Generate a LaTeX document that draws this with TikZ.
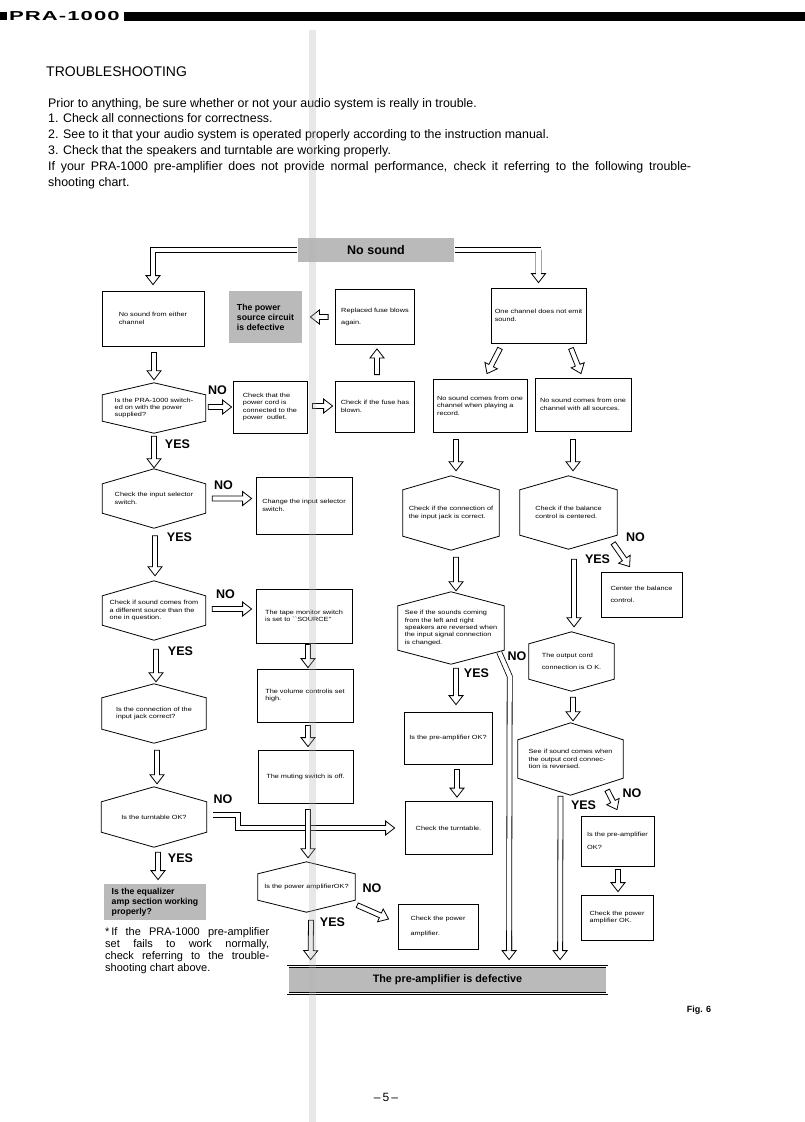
\documentclass[tikz,border=0pt]{standalone}
\usepackage{fontspec}
\setmainfont{Liberation Sans}
\newfontfamily\boxfam[FakeStretch=1.22]{Liberation Sans}
\newfontfamily\hdrfam[FakeStretch=1.7,LetterSpace=8]{Liberation Sans}
\usetikzlibrary{calc}
\providecommand{\bxf}{\boxfam\fontsize{6}{7.4}\selectfont}
\tikzset{
  bx/.style 2 args ={draw,line width=.8pt,align=left,inner sep=1pt,font=\bxf,
                     minimum width=#1,minimum height=#2},
  hexq/.style n args={3}{align=left,inner sep=1pt,font=\bxf,minimum width=#1,minimum height=#2,
                     append after command={\pgfextra{\draw[line width=.8pt]
                       (\tikzlastnode.north) -- ([yshift=-#3]\tikzlastnode.north east)
                       -- ([yshift=#3]\tikzlastnode.south east) -- (\tikzlastnode.south)
                       -- ([yshift=#3]\tikzlastnode.south west)
                       -- ([yshift=-#3]\tikzlastnode.north west) -- cycle;}}},
  gbox/.style 2 args={draw,line width=.8pt,double=white,double distance=1.2pt,fill=black!27,
                     align=left,inner sep=2pt,font=\bfseries\fontsize{8.7}{10}\selectfont,
                     minimum width=#1,minimum height=#2},
  yn/.style         ={font=\bfseries\fontsize{12.5}{13}\selectfont,inner sep=0pt},
  fat/.style        ={draw,line width=.8pt,fill=white,line join=miter,
                     to path={let \p1=(\tikztostart), \p2=(\tikztotarget),
                       \p3=($(\p2)!9pt!(\p1)$) in
                       ($(\p1)!2.5pt!90:(\p2)$) -- ($(\p3)!2.5pt!90:(\p2)$)
                       -- ($(\p3)!7pt!90:(\p2)$) -- (\p2) -- ($(\p3)!7pt!-90:(\p2)$)
                       -- ($(\p3)!2.5pt!-90:(\p2)$) -- ($(\p1)!2.5pt!-90:(\p2)$) -- cycle}},
  fatl/.style       ={draw,line width=.8pt,double=white,double distance=4.2pt,line join=miter},
}

\begin{document}
\begin{tikzpicture}[x=1pt,y=-1pt]
  \useasboundingbox (0,0) rectangle (805,1122);

  % ---------- page head ----------
  \fill (0,12) rectangle (7,20);
  \node[anchor=west,inner sep=0pt,font=\hdrfam\bfseries\fontsize{13}{13}\selectfont] (hdr) at (9,16) {PRA-1000};
  \fill (124,11.5) rectangle (805,20.5);

  \node[anchor=base west,inner sep=0pt,font=\fontsize{14}{16}\selectfont] (ttl) at (46,76) {TROUBLESHOOTING};
  \node[anchor=north west,inner sep=0pt,text width=643pt,align=justify,
        font=\fontsize{12.4}{15.8}\selectfont] (intro) at (48,98)
    {Prior to anything, be sure whether or not your audio system is really in trouble.\\
     1. Check all connections for correctness.\\
     2. See to it that your audio system is operated properly according to the instruction manual.\\
     3. Check that the speakers and turntable are working properly.\\
     If your PRA-1000 pre-amplifier does not provide normal performance, check it referring to the following trouble-\linebreak
     shooting chart.};

  % ---------- top ----------
  \node[gbox={158pt}{26pt},align=center,font=\bfseries\fontsize{12.5}{13}\selectfont] (nosound) at (376,250) {No sound};

  % ---------- left column ----------
  \node[bx={102pt}{55pt}] (n1) at (153,318.5) {No sound from either\\channel};
  \node[hexq={103pt}{50pt}{12pt}] (h1) at (154,408) {Is the PRA-1000 switch-\\ed on with the power\\supplied?};
  \node[hexq={103pt}{59pt}{15pt}] (h2) at (154,498.5) {Check the input selector\\switch.};
  \node[hexq={103pt}{59pt}{15pt}] (h3) at (154,610.5) {Check if sound comes from\\a different source than the\\one in question.};
  \node[hexq={104pt}{59pt}{14pt}] (h4) at (154,713.5) {Is the connection of the\\input jack correct?};
  \node[hexq={105pt}{60pt}{15pt}] (h5) at (154,817) {Is the turntable OK?};
  \node[gbox={104pt}{38pt}] (eq) at (155,902) {Is the equalizer\\amp section working\\properly?};

  % ---------- middle column ----------
  \node[gbox={75pt}{54pt}] (pwr) at (265.5,317) {The power\\source circuit\\is defective};
  \node[bx={74pt}{52pt}] (pc) at (270,407) {Check that the\\power cord is\\connected to the\\power\ \ outlet.};
  \node[bx={96pt}{57pt}] (chg) at (304,505.5) {Change the input selector\\switch.};
  \node[bx={96pt}{54pt}] (tape) at (304,616) {The tape monitor switch\\is set to ``SOURCE''};
  \node[bx={96pt}{53pt}] (vol) at (305,695.5) {The volume controlis set\\high.};
  \node[bx={95pt}{53pt}] (mute) at (305.5,776.5) {The muting switch is off.};
  \node[hexq={97pt}{50pt}{12pt}] (h6) at (306.5,887) {Is the power amplifierOK?};
  \node[bx={80pt}{45pt}] (cpa) at (438,926.5) {Check the power\\[7pt]amplifier.};
  \node[bx={79pt}{55pt}] (rep) at (375,317) {Replaced fuse blows\\[4pt]again.};
  \node[bx={79pt}{51pt}] (fuse) at (375,406.5) {Check if the fuse has\\blown.};

  % ---------- right columns ----------
  \node[bx={95pt}{55pt}] (one) at (538.5,315.5) {One channel does not emit\\sound.};
  \node[bx={94pt}{53pt}] (rec) at (480,405.5) {No sound comes from one\\channel when playing a\\record.};
  \node[bx={96pt}{53pt}] (all) at (583,404.5) {No sound comes from one\\channel with all sources.};
  \node[hexq={96pt}{74pt}{14pt}] (hj) at (451,513) {Check if the connection of\\the input jack is correct.};
  \node[hexq={97pt}{73pt}{14pt}] (hb) at (568.5,512.5) {Check if the balance\\control is centered.};
  \node[hexq={106pt}{72pt}{14pt}] (hs) at (451,628) {See if the sounds coming\\from the left and right\\speakers are reversed when\\the input signal connection\\is changed.};
  \node[bx={81pt}{45pt}] (cb) at (641.5,594.5) {Center the balance\\[4pt]control.};
  \node[hexq={85pt}{59pt}{12pt}] (ho) at (571.5,661.5) {The output cord\\[4pt]connection is O K.};
  \node[bx={88pt}{52pt}] (pre1) at (448,738) {Is the pre-amplifier OK?};
  \node[bx={87pt}{53pt}] (tt) at (448.5,828) {Check the turntable.};
  \node[hexq={105pt}{72pt}{17pt}] (hr) at (570.5,759) {See if sound comes when\\the output cord connec-\\tion is reversed.};
  \node[bx={73pt}{50pt}] (pre2) at (617.5,841) {Is the pre-amplifier\\[5pt]OK?};
  \node[bx={72pt}{45pt}] (cpo) at (617,917.5) {Check the power\\amplifier OK.};

  % ---------- bottom ----------
  \node[gbox={319pt}{27pt},align=center,font=\bfseries\fontsize{10.8}{12}\selectfont] (defect) at (447.5,980) {The pre-amplifier is defective};
  \node[anchor=north west,inner sep=0pt,text width=164pt,align=justify,font=\fontsize{11}{12}\selectfont] (note) at (105,927)
    {\hangindent=6pt\hangafter=1 *\,If the PRA-1000 pre-amplifier\linebreak
     set fails to work normally,\linebreak check referring to the trouble-\linebreak shooting chart above.};
  \node[font=\bfseries\fontsize{9}{10}\selectfont] (fig) at (699,1010) {Fig. 6};
  \node[font=\fontsize{12}{13}\selectfont] (pg) at (386,1097) {--\,5\,--};

  % ---------- hollow arrows ----------
  \draw[fat] (nosound.west -| n1.north) to ([yshift=6pt]n1.north);
  \draw[fatl] (nosound.west) -| ([yshift=15pt]n1.north);
  \draw[fat] (nosound.east -| one.north) to ([yshift=5pt]one.north);
  \draw[fatl] (nosound.east) -| ([yshift=14pt]one.north);

  \draw[fat] ([xshift=1pt,yshift=-6pt]n1.south) to ([yshift=3pt]h1.north);
  \draw[fat] ([xshift=2.5pt,yshift=1pt]h1.east) to ([xshift=-1pt]pc.west);
  \draw[fat] ([xshift=5pt,yshift=1pt]pc.east) to ([xshift=-2.5pt,yshift=.5pt]fuse.west);
  \draw[fat] ([xshift=2pt,yshift=6pt]fuse.north) to ([xshift=2pt,yshift=-4pt]rep.south);
  \draw[fat] ([xshift=-7pt]rep.west) to ([xshift=7pt]pwr.east);
  \draw[fat] ([yshift=-3pt]h1.south) to ([yshift=1pt]h2.north);
  \draw[fat] ([xshift=6.5pt]h2.east) to ([xshift=-4pt,yshift=7pt]chg.west);
  \draw[fat] ([xshift=1pt,yshift=-7.5pt]h2.south) to ([xshift=1pt,yshift=5pt]h3.north);
  \draw[fat] ([xshift=6.5pt,yshift=1.5pt]h3.east) to ([xshift=-4pt,yshift=7pt]tape.west);
  \draw[fat] ([xshift=2pt,yshift=-9pt]h3.south) to ([xshift=2pt,yshift=2pt]h4.north);
  \draw[fat] ([xshift=3pt,yshift=-7pt]h4.south) to ([xshift=3pt,yshift=3pt]h5.north);
  \draw[fat] ([xshift=-40pt]tt.west) to ([xshift=-10pt]tt.west);
  \draw[fatl] ([xshift=6.5pt,yshift=2pt]h5.east) -| ([xshift=-166.5pt]tt.west) -- ([xshift=-19pt]tt.west);
  \draw[fat] ([xshift=4pt,yshift=-5pt]h5.south) to ([xshift=3pt,yshift=3pt]eq.north);

  \draw[fat] ([xshift=4pt,yshift=-1pt]tape.south) to ([xshift=3pt,yshift=1pt]vol.north);
  \draw[fat] ([xshift=3pt,yshift=-3pt]vol.south) to ([xshift=2.5pt,yshift=3pt]mute.north);
  \draw[fat] ([xshift=2.5pt,yshift=-6pt]mute.south) to ([xshift=1.5pt,yshift=4pt]h6.north);
  \draw[fat] ([xshift=2pt,yshift=7pt]h6.south east) to ([xshift=-9pt,yshift=7.5pt]cpa.west);
  \draw[fat] ([xshift=4.5pt,yshift=-8pt]h6.south) to ([xshift=23pt,yshift=6.5pt]defect.north west);

  \draw[fat] ([xshift=-38.5pt,yshift=-5pt]one.south) to ([xshift=7pt,yshift=5pt]rec.north);
  \draw[fat] ([xshift=32.5pt,yshift=-5pt]one.south) to ([xshift=-2pt,yshift=4pt]all.north);
  \draw[fat] ([xshift=-24pt,yshift=-7pt]rec.south) to ([xshift=5pt,yshift=5pt]hj.north);
  \draw[fat] ([xshift=-10pt,yshift=-8pt]all.south) to ([xshift=4.5pt,yshift=5pt]hb.north);
  \draw[fat] ([xshift=5pt,yshift=-7pt]hj.south) to ([xshift=5pt,yshift=1pt]hs.north);
  \draw[fat] ([xshift=-4pt,yshift=6pt]hb.south east) to ([xshift=29pt,yshift=5pt]cb.north west);
  \draw[fat] ([xshift=5.5pt,yshift=-10pt]hb.south) to ([xshift=2.5pt,yshift=5pt]ho.north);
  \draw[fat] ([xshift=5pt,yshift=-4pt]hs.south) to ([xshift=8pt,yshift=7pt]pre1.north);
  \draw[fat] ([xshift=9pt,yshift=-5pt]pre1.south) to ([xshift=8.5pt,yshift=4pt]tt.north);
  \draw[fat] ([xshift=1.5pt,yshift=-6pt]ho.south) to ([xshift=2.5pt,yshift=2pt]hr.north);
  \draw[fat] ([xshift=221.5pt,yshift=30pt]defect.north west) to ([xshift=221.5pt,yshift=6.5pt]defect.north west);
  \draw[fatl] ([xshift=-5pt,yshift=12pt]hs.south east) -- ++(10.5,24) -- ([xshift=221.5pt,yshift=15.5pt]defect.north west);
  \draw[fat] ([xshift=-10pt,yshift=-1pt]hr.south) to ([xshift=272.5pt,yshift=6.5pt]defect.north west);
  \draw[fat] ([xshift=-16pt,yshift=5pt]hr.south east) to ([xshift=-.5pt,yshift=6pt]pre2.north);
  \draw[fat] ([xshift=.5pt,yshift=-3pt]pre2.south) to ([xshift=1pt,yshift=3pt]cpo.north);

  % ---------- YES / NO ----------
  \node[yn] (no1) at (217.5,390) {NO};
  \node[yn] (yes1) at (177.5,444) {YES};
  \node[yn] (no2) at (223.5,485) {NO};
  \node[yn] (yes2) at (179.5,537) {YES};
  \node[yn] (no3) at (225.5,594) {NO};
  \node[yn] (yes3) at (180.5,651) {YES};
  \node[yn] (no4) at (223,799) {NO};
  \node[yn] (yes4) at (180.5,858) {YES};
  \node[yn] (no5) at (372,888) {NO};
  \node[yn] (yes5) at (332.5,922) {YES};
  \node[yn] (no6) at (635.5,537) {NO};
  \node[yn] (yes6) at (597.5,559) {YES};
  \node[yn] (no7) at (517,656) {NO};
  \node[yn] (yes7) at (476.5,673) {YES};
  \node[yn] (no8) at (632,793) {NO};
  \node[yn] (yes8) at (583.5,805) {YES};

  % ---------- scan fold ----------
  \fill[black!30,opacity=.3] (309,30) rectangle (316,1122);

\end{tikzpicture}
\end{document}
